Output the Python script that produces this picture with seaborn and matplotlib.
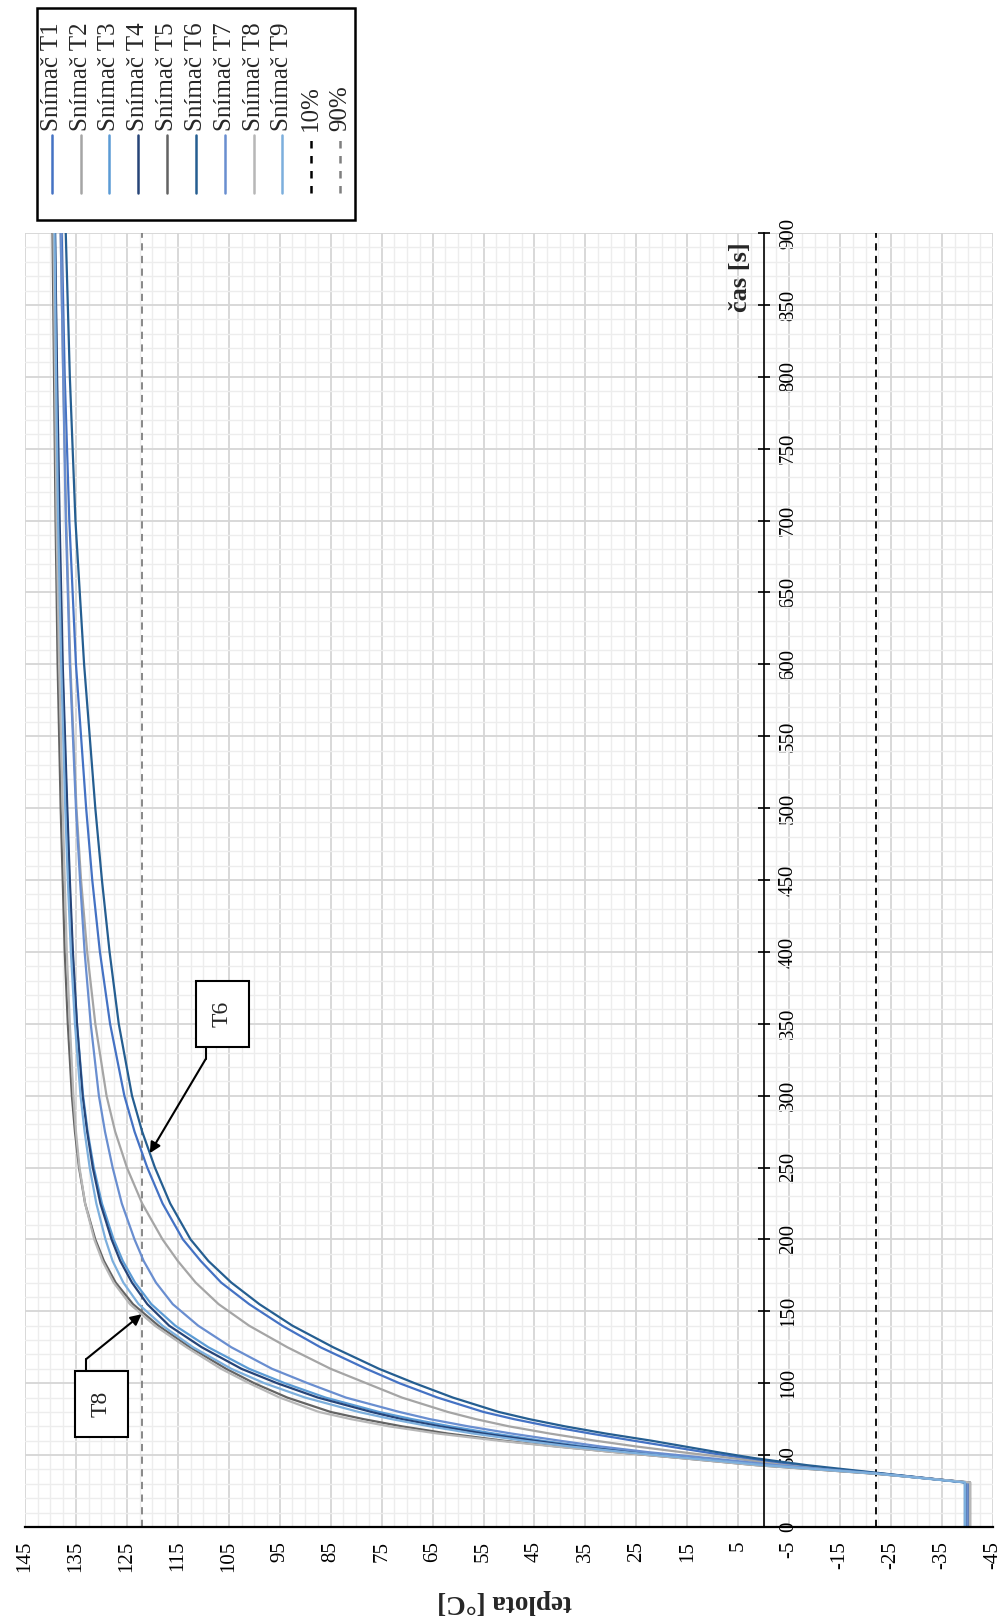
import numpy as np
import pandas as pd
import matplotlib
matplotlib.use("Agg")
import matplotlib.pyplot as plt
import seaborn as sns
from matplotlib.ticker import MultipleLocator, FixedLocator
from matplotlib.patches import Rectangle
from matplotlib.lines import Line2D

# ---------------- data ----------------
time_s = [0, 31, 37, 43, 48, 52, 56, 60, 65, 70, 75, 80, 90, 100, 110, 125, 140,
          155, 170, 185, 200, 225, 250, 275, 300, 350, 400, 450, 500, 600, 700, 800, 900]

T1 = [-40, -40, -23.5, -6, 4, 11.5, 18.5, 25.5, 34, 42, 49, 55, 64, 71.5, 78, 87, 94.5,
      101, 106.5, 110.5, 114, 118, 121, 123.5, 125.5, 128.3, 130.3, 131.8, 133, 135, 136.3, 137.2, 137.8]
T2 = [-40, -40, -23.5, -4, 6.5, 16, 25, 33, 42, 50, 56.5, 62, 71, 78, 85, 93.5, 101,
      107, 111.5, 115, 118, 122, 125, 127.3, 129, 131.2, 132.8, 134, 134.9, 136.1, 136.9, 137.5, 138]
T3 = [-39.5, -39.5, -23, -0.5, 14, 25, 35, 43.5, 53, 61.5, 69, 75.5, 86, 94, 101, 109, 115.5,
      120.2, 123.4, 125.8, 127.6, 129.9, 131.5, 132.7, 133.6, 134.8, 135.7, 136.3, 136.8, 137.7, 138.4, 138.8, 139.1]
T4 = [-40, -40, -22.5, 0, 14.5, 26, 36.5, 45, 55, 63.5, 71, 77, 87.5, 95.5, 102.5, 110.3, 116.7,
      121, 124, 126.3, 128, 130.2, 131.7, 132.8, 133.7, 134.8, 135.6, 136.2, 136.7, 137.6, 138.2, 138.7, 139.1]
T5 = [-40.5, -40.5, -22, 1.5, 16.5, 29, 40.5, 51, 62, 71, 78.5, 85, 93.5, 100, 105.5, 112.6, 118.8,
      123.8, 127.2, 129.5, 131.2, 133.2, 134.4, 135.2, 135.8, 136.6, 137.2, 137.6, 138, 138.6, 139, 139.3, 139.6]
T6 = [-39.5, -39.5, -24, -8.5, 2, 9, 15.5, 22, 31, 39, 46, 52, 61, 68.5, 75.5, 84.5, 92.5,
      99, 104.5, 109, 112.5, 116.5, 119.5, 122, 124, 126.6, 128.4, 129.9, 131.2, 133.4, 135.1, 136.2, 137]
T7 = [-40, -40, -23, -2.5, 11, 22.5, 32, 40, 49.5, 58, 65.5, 71.5, 82, 89.5, 96.5, 104.5, 111,
      116, 119.3, 121.7, 123.5, 126, 127.8, 129.3, 130.5, 132.1, 133.3, 134.2, 135, 136.2, 137, 137.5, 138]
T8 = [-40.5, -40.5, -22, 1.5, 16.5, 29, 41, 52, 64, 73.5, 81, 87.3, 95, 101, 106.5, 113.3, 119.5,
      124.4, 127.6, 129.8, 131.4, 133.2, 134.3, 135, 135.5, 136.2, 136.8, 137.2, 137.6, 138.3, 138.8, 139.1, 139.4]
T9 = [-39.5, -39.5, -22.5, 0, 15, 27, 38, 47, 57, 65.5, 73, 79.5, 90, 98, 104.5, 112, 118,
      122.7, 125.7, 127.8, 129.2, 131, 132.3, 133.3, 134.1, 135.2, 136, 136.6, 137.1, 137.9, 138.5, 138.9, 139.2]

series_names = ["Snímač T1", "Snímač T2", "Snímač T3", "Snímač T4", "Snímač T5",
                "Snímač T6", "Snímač T7", "Snímač T8", "Snímač T9"]
series_values = [T1, T2, T3, T4, T5, T6, T7, T8, T9]
series_colors = ["#4472C4", "#A5A5A5", "#5B9BD5", "#264478", "#636363",
                 "#255E91", "#698ED0", "#B7B7B7", "#7CAFDD"]

level_names = ["10%", "90%"]
level_values = [-22, 122]
level_colors = ["#000000", "#7F7F7F"]

temp_ticks = [145, 135, 125, 115, 105, 95, 85, 75, 65, 55, 45, 35, 25, 15, 5, -5, -15, -25, -35, -45]
temp_tick_labels = [str(v) for v in temp_ticks]
time_ticks = list(range(0, 901, 50))
time_tick_labels = [str(v) for v in time_ticks]

x_label = "teplota [°C]"
y_label = "čas [s]"

# ---------------- figure ----------------
sns.set_style("white")
plt.rcParams["font.family"] = ["Liberation Serif", "DejaVu Serif"]

W, H = 1006, 1619
fig = plt.figure(figsize=(W / 100, H / 100), dpi=100)
ax_l, ax_r, ax_t, ax_b = 25, 993, 233, 1527
ax = fig.add_axes([ax_l / W, (H - ax_b) / H, (ax_r - ax_l) / W, (ax_b - ax_t) / H])

ax.set_xlim(145, -45)
ax.set_ylim(0, 900)

df = pd.DataFrame({
    "time": np.tile(time_s, len(series_names)),
    "temp": np.concatenate(series_values),
    "series": np.repeat(series_names, len(time_s)),
})
sns.lineplot(data=df, x="temp", y="time", hue="series", palette=dict(zip(series_names, series_colors)),
             orient="y", estimator=None, sort=True, legend=False, linewidth=1.6, ax=ax)

for v, c in zip(level_values, level_colors):
    ax.axvline(v, color=c, lw=1.3, ls=(0, (4, 3)), zorder=1.5)

# grid
ax.xaxis.set_major_locator(FixedLocator(temp_ticks))
ax.xaxis.set_minor_locator(MultipleLocator(2.5))
ax.yaxis.set_major_locator(FixedLocator(time_ticks))
ax.yaxis.set_minor_locator(MultipleLocator(10))
ax.set_axisbelow(True)
ax.grid(which="major", color="#d6d6d6", lw=1.3)
ax.grid(which="minor", color="#ededed", lw=1.0)

# spines
ax.spines["top"].set_visible(False)
ax.spines["left"].set_visible(False)
ax.spines["bottom"].set_linewidth(1.6)
ax.spines["bottom"].set_color("black")
ax.spines["right"].set_position(("data", 0))
ax.spines["right"].set_linewidth(1.2)
ax.spines["right"].set_color("black")
ax.yaxis.set_ticks_position("right")

ax.set_xticklabels(temp_tick_labels, rotation=90, va="top", ha="center")
ax.set_yticklabels(time_tick_labels, rotation=90, va="center", ha="left")
ax.tick_params(axis="x", which="major", direction="in", length=6, width=1.5, pad=10, labelsize=15, colors="black")
ax.tick_params(axis="y", which="major", direction="inout", length=9, width=1.2, pad=6.5, labelsize=15, colors="black")
ax.tick_params(which="minor", length=0)
ax.set_xlabel("")
ax.set_ylabel("")


def px2data(x, y):
    t = 145 - (x - ax_l) * 190 / (ax_r - ax_l)
    s = (ax_b - y) * 900 / (ax_b - ax_t)
    return t, s


# axis titles
ax.text(*px2data(740, 277), y_label, rotation=90, ha="center", va="center",
        fontsize=19, fontweight="bold")
fig.text(505 / W, 1 - 1601 / H, x_label, rotation=180, ha="center", va="center",
         fontsize=19.5, fontweight="bold")


# annotations T6, T8
def note(label, box_px, stub_px, tip_time, series):
    (x0, y0, x1, y1) = box_px
    ta, sa = px2data(x0, y1)
    tb, sb = px2data(x1, y0)
    ax.add_patch(Rectangle((ta, sa), tb - ta, sb - sa, facecolor="white", edgecolor="black",
                           lw=1.5, zorder=6))
    tc, sc = px2data((x0 + x1) / 2, (y0 + y1) / 2)
    ax.text(tc, sc, label, rotation=90, ha="center", va="center", fontsize=17, zorder=7)
    p0 = px2data(*stub_px[0])
    p1 = px2data(*stub_px[1])
    ax.add_line(Line2D([p0[0], p1[0]], [p0[1], p1[1]], color="black", lw=1.5, zorder=6))
    tip = (float(np.interp(tip_time, time_s, series)), tip_time)
    ax.annotate("", xy=tip, xytext=p1,
                arrowprops=dict(arrowstyle="-|>", color="black", lw=1.5, mutation_scale=16,
                                shrinkA=0, shrinkB=0), zorder=6)


note("T6", (196, 981, 249, 1047), [(205.7, 1047), (205.7, 1059)], 260, T6)
note("T8", (75, 1371, 128, 1437), [(86.3, 1371), (86.3, 1359)], 148, T8)


# legend (rotated, drawn manually)
def fx(x):
    return x / W


def fy(y):
    return 1 - y / H


fig.add_artist(Rectangle((fx(37), fy(220)), fx(355) - fx(37), fy(8) - fy(220), transform=fig.transFigure,
                         facecolor="white", edgecolor="black", lw=1.8, zorder=10))
leg_names = series_names + level_names
leg_colors = series_colors + level_colors
leg_styles = ["-"] * len(series_names) + [(0, (3, 3))] * len(level_names)
for i, (n, c, ls) in enumerate(zip(leg_names, leg_colors, leg_styles)):
    xc = 51.7 + i * 28.83
    fig.add_artist(Line2D([fx(xc), fx(xc)], [fy(193), fy(135)], transform=fig.transFigure,
                          color=c, lw=1.8, ls=ls, zorder=11))
    fig.text(fx(xc), fy(131), n, rotation=90, rotation_mode="anchor", ha="left", va="center",
             fontsize=18, zorder=11)

fig.savefig("out.png", dpi=100)
